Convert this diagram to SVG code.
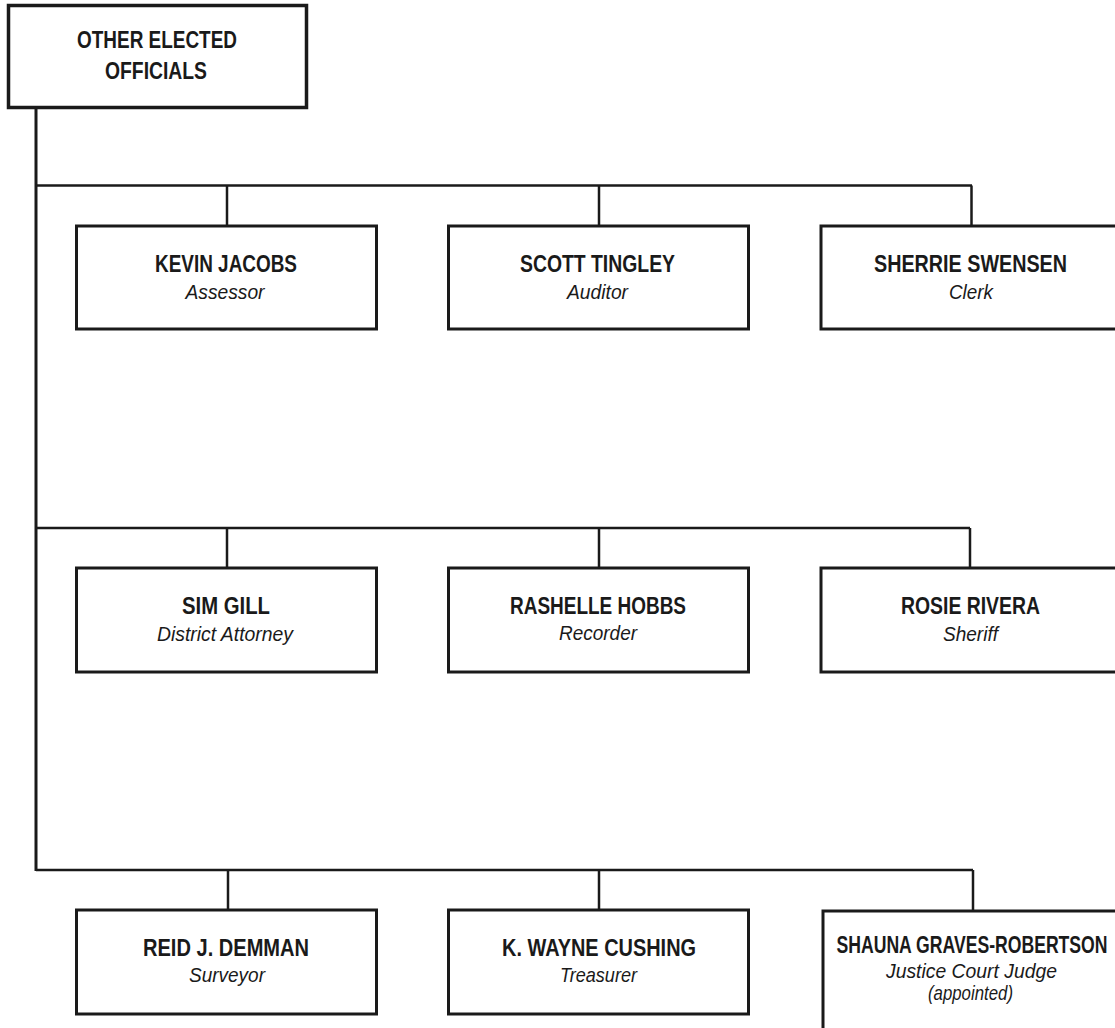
<svg xmlns="http://www.w3.org/2000/svg" width="1115" height="1028" viewBox="0 0 1115 1028">
<style>
.box{fill:#fff;stroke:#1a1a1a;stroke-width:3}
.top{fill:#fff;stroke:#1a1a1a;stroke-width:3.5}
.ln{fill:none;stroke:#1a1a1a;stroke-width:2.5}
.trunk{fill:none;stroke:#1a1a1a;stroke-width:3}
.nm{font-family:"Liberation Sans",Arial,sans-serif;font-weight:bold;font-size:24px;fill:#1a1a1a;text-anchor:middle}
.rl{font-family:"Liberation Sans",Arial,sans-serif;font-style:italic;font-size:21px;fill:#1a1a1a;text-anchor:middle}
</style>
<rect width="1115" height="1028" fill="#fff"/>
<g id="connectors">
<line class="trunk" x1="36" y1="106" x2="36" y2="871"/>
<line class="ln" x1="36" y1="185.5" x2="972" y2="185.5"/>
<line class="ln" x1="227" y1="185.5" x2="227" y2="226"/>
<line class="ln" x1="599" y1="185.5" x2="599" y2="226"/>
<line class="ln" x1="971.5" y1="185.5" x2="971.5" y2="226"/>
<line class="ln" x1="36" y1="528" x2="970" y2="528"/>
<line class="ln" x1="227" y1="528" x2="227" y2="568"/>
<line class="ln" x1="599" y1="528" x2="599" y2="568"/>
<line class="ln" x1="970" y1="528" x2="970" y2="568"/>
<line class="ln" x1="36" y1="870" x2="973" y2="870"/>
<line class="ln" x1="228" y1="870" x2="228" y2="910"/>
<line class="ln" x1="599" y1="870" x2="599" y2="910"/>
<line class="ln" x1="973" y1="870" x2="973" y2="911"/>
</g>
<g id="other-elected-officials">
<rect class="top" x="8.5" y="5.5" width="298" height="102"/>
<text class="nm" x="157" y="47.5" textLength="160" lengthAdjust="spacingAndGlyphs">OTHER ELECTED</text>
<text class="nm" x="156" y="78.5" textLength="102" lengthAdjust="spacingAndGlyphs">OFFICIALS</text>
</g>
<g id="kevin-jacobs">
<rect class="box" x="76.5" y="226" width="300" height="103"/>
<text class="nm" x="226" y="271.5" textLength="142" lengthAdjust="spacingAndGlyphs">KEVIN JACOBS</text>
<text class="rl" x="225" y="298.5" textLength="79" lengthAdjust="spacingAndGlyphs">Assessor</text>
</g>
<g id="scott-tingley">
<rect class="box" x="448.5" y="226" width="300" height="103"/>
<text class="nm" x="597.5" y="271.5" textLength="155" lengthAdjust="spacingAndGlyphs">SCOTT TINGLEY</text>
<text class="rl" x="597.5" y="298.5" textLength="61" lengthAdjust="spacingAndGlyphs">Auditor</text>
</g>
<g id="sherrie-swensen">
<rect class="box" x="821" y="226" width="300" height="103"/>
<text class="nm" x="970.5" y="271.5" textLength="193" lengthAdjust="spacingAndGlyphs">SHERRIE SWENSEN</text>
<text class="rl" x="971" y="298.5" textLength="44" lengthAdjust="spacingAndGlyphs">Clerk</text>
</g>
<g id="sim-gill">
<rect class="box" x="76.5" y="568" width="300" height="104"/>
<text class="nm" x="226" y="614" textLength="88" lengthAdjust="spacingAndGlyphs">SIM GILL</text>
<text class="rl" x="225" y="640.5" textLength="136" lengthAdjust="spacingAndGlyphs">District Attorney</text>
</g>
<g id="rashelle-hobbs">
<rect class="box" x="448.5" y="568" width="300" height="104"/>
<text class="nm" x="598" y="614" textLength="176" lengthAdjust="spacingAndGlyphs">RASHELLE HOBBS</text>
<text class="rl" x="598" y="640" textLength="78" lengthAdjust="spacingAndGlyphs">Recorder</text>
</g>
<g id="rosie-rivera">
<rect class="box" x="821" y="568" width="300" height="104"/>
<text class="nm" x="970.5" y="614" textLength="139" lengthAdjust="spacingAndGlyphs">ROSIE RIVERA</text>
<text class="rl" x="970.5" y="640.5" textLength="55" lengthAdjust="spacingAndGlyphs">Sheriff</text>
</g>
<g id="reid-demman">
<rect class="box" x="76.5" y="910" width="300" height="104"/>
<text class="nm" x="226" y="956" textLength="166" lengthAdjust="spacingAndGlyphs">REID J. DEMMAN</text>
<text class="rl" x="227" y="982" textLength="76" lengthAdjust="spacingAndGlyphs">Surveyor</text>
</g>
<g id="k-wayne-cushing">
<rect class="box" x="448.5" y="910" width="300" height="104"/>
<text class="nm" x="599" y="956" textLength="194" lengthAdjust="spacingAndGlyphs">K. WAYNE CUSHING</text>
<text class="rl" x="598.5" y="982" textLength="77" lengthAdjust="spacingAndGlyphs">Treasurer</text>
</g>
<g id="shauna-graves-robertson">
<rect class="box" x="823" y="911" width="300" height="130"/>
<text class="nm" x="0" y="0" transform="translate(972,952.5) scale(0.734,1)">SHAUNA GRAVES-ROBERTSON</text>
<text class="rl" x="971.5" y="978" textLength="171" lengthAdjust="spacingAndGlyphs">Justice Court Judge</text>
<text class="rl" x="970.5" y="1000" font-size="19" textLength="85" lengthAdjust="spacingAndGlyphs">(appointed)</text>
</g>
</svg>
